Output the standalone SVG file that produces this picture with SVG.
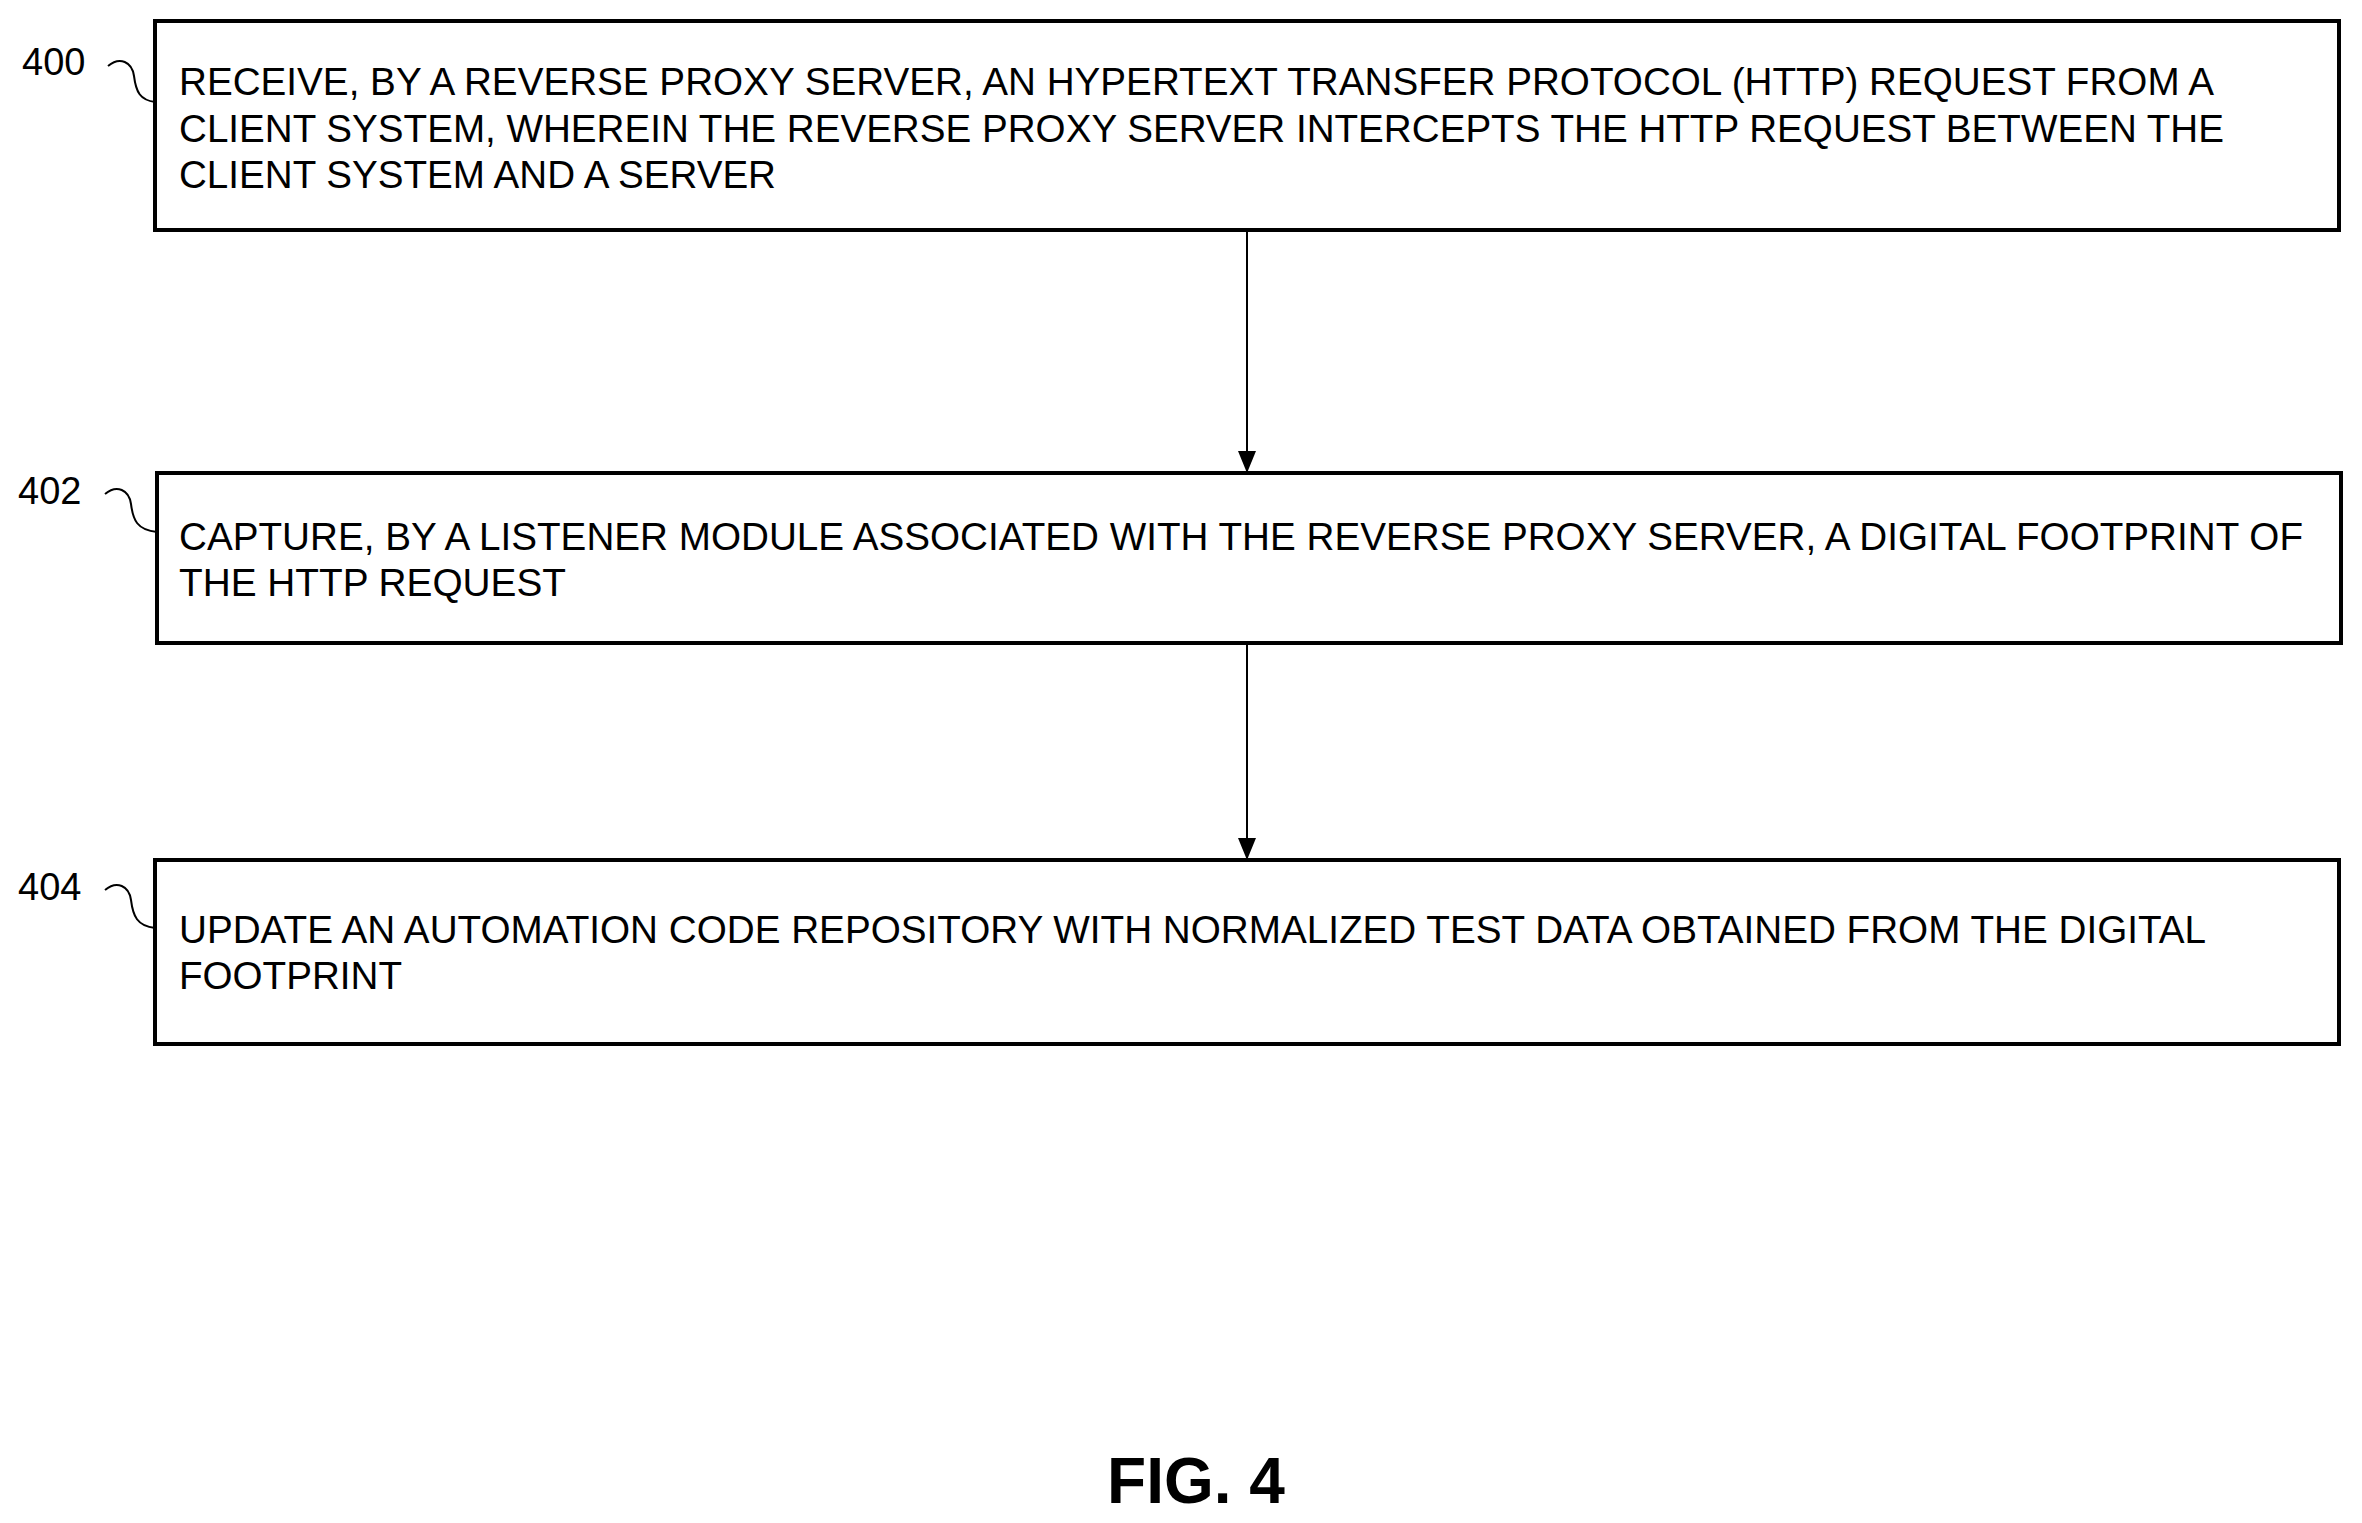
<svg xmlns="http://www.w3.org/2000/svg" width="2362" height="1523" viewBox="0 0 2362 1523">
<style>
.box{fill:#fff;stroke:#000;stroke-width:4}
.t{font-family:"Liberation Sans",Arial,sans-serif;font-size:38px;fill:#000}
.lbl{font-family:"Liberation Sans",Arial,sans-serif;font-size:38px;fill:#000}
.sq{fill:none;stroke:#000;stroke-width:2}
.c{stroke:#000;stroke-width:2;fill:none}
</style>
<defs>
<marker id="ah2" markerWidth="22" markerHeight="22" refX="22" refY="11" orient="auto" markerUnits="userSpaceOnUse" viewBox="0 0 22 22"><path d="M0,2 L22,11 L0,20 Z" fill="#000"/></marker></defs>
<rect width="2362" height="1523" fill="#fff"/>
<g id="n400">
<rect class="box" x="155" y="21" width="2184" height="209"/>
<text class="t" x="179" y="95" textLength="2035" lengthAdjust="spacingAndGlyphs">RECEIVE, BY A REVERSE PROXY SERVER, AN HYPERTEXT TRANSFER PROTOCOL (HTTP) REQUEST FROM A</text>
<text class="t" x="179" y="142" textLength="2045" lengthAdjust="spacingAndGlyphs">CLIENT SYSTEM, WHEREIN THE REVERSE PROXY SERVER INTERCEPTS THE HTTP REQUEST BETWEEN THE</text>
<text class="t" x="179" y="188" textLength="597" lengthAdjust="spacingAndGlyphs">CLIENT SYSTEM AND A SERVER</text>
<text class="lbl" x="22" y="75">400</text>
<path class="sq" d="M108,66 C120,56 132,62 134,76 C136,92 140,100 155,102"/>
</g>
<g id="n402">
<rect class="box" x="157" y="473" width="2184" height="170"/>
<text class="t" x="179" y="550" textLength="2124" lengthAdjust="spacingAndGlyphs">CAPTURE, BY A LISTENER MODULE ASSOCIATED WITH THE REVERSE PROXY SERVER, A DIGITAL FOOTPRINT OF</text>
<text class="t" x="179" y="596" textLength="387" lengthAdjust="spacingAndGlyphs">THE HTTP REQUEST</text>
<text class="lbl" x="18" y="504">402</text>
<path class="sq" d="M105,494 C117,484 129,490 131,504 C133,520 137,530 157,532"/>
</g>
<g id="n404">
<rect class="box" x="155" y="860" width="2184" height="184"/>
<text class="t" x="179" y="943" textLength="2027" lengthAdjust="spacingAndGlyphs">UPDATE AN AUTOMATION CODE REPOSITORY WITH NORMALIZED TEST DATA OBTAINED FROM THE DIGITAL</text>
<text class="t" x="179" y="989" textLength="223" lengthAdjust="spacingAndGlyphs">FOOTPRINT</text>
<text class="lbl" x="18" y="900">404</text>
<path class="sq" d="M105,890 C117,880 129,886 131,900 C133,916 137,926 155,928"/>
</g>
<g id="connectors">
<line class="c" x1="1247" y1="231" x2="1247" y2="473" marker-end="url(#ah2)"/>
<line class="c" x1="1247" y1="644" x2="1247" y2="860" marker-end="url(#ah2)"/>
</g>
<text x="1196" y="1503" text-anchor="middle" font-family="Liberation Sans,Arial,sans-serif" font-weight="bold" font-size="64">FIG. 4</text>
</svg>
